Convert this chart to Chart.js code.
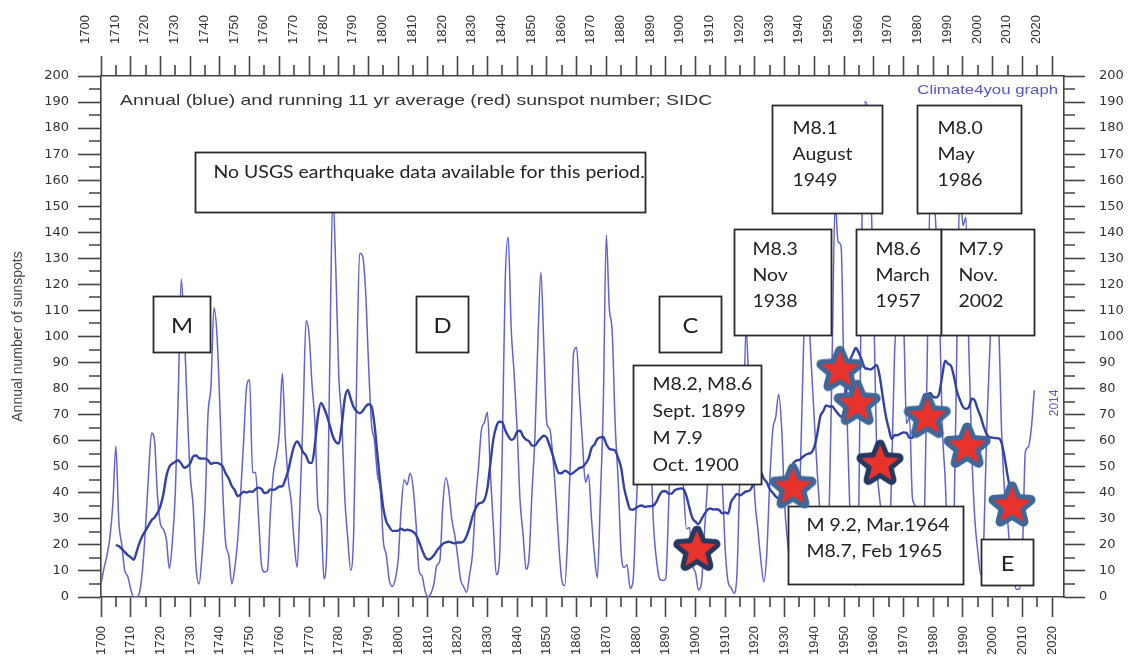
<!DOCTYPE html>
<html><head><meta charset="utf-8">
<script src="https://cdn.jsdelivr.net/npm/chart.js@4"></script>
<style>html,body{margin:0;padding:0;background:#fff;overflow:hidden}canvas{display:block}</style>
</head><body>
<canvas id="c" width="1128" height="657"></canvas>
<script>
// ---------- DATA ----------
const firstYear = 1700;
const sunspots1700s = [5,11,16,23,36,58,29,20,10,8, 3,0,0,2,11,27,47,63,60,39, 28,26,22,11,21,40,78,122,103,73,
  47,35,11,5,16,34,70,81,111,101, 73,40,20,16,5,11,22,40,60,80.9, 83.4,47.7,47.8,30.7,12.2,9.6,10.2,32.4,47.6,54.0,
  62.9,85.9,61.2,45.1,36.4,20.9,11.4,37.8,69.8,106.1, 100.8,81.6,66.5,34.8,30.6,7.0,19.8,92.5,154.4,125.9,
  84.8,68.1,38.5,22.8,10.2,24.1,82.9,132.0,130.9,118.1, 89.9,66.6,60.0,46.9,41.0,21.3,16.0,6.4,4.1,6.8];
const sunspots1800s = [14.5,34.0,45.0,43.1,47.5,42.2,28.1,10.1,8.1,2.5, 0.0,1.4,5.0,12.2,13.9,35.4,45.8,41.1,30.1,23.9,
  15.6,6.6,4.0,1.8,8.5,16.6,36.3,49.6,64.2,67.0, 70.9,47.8,27.5,8.5,13.2,56.9,121.5,138.3,103.2,85.7,
  64.6,36.7,24.2,10.7,15.0,40.1,61.5,98.5,124.7,96.3, 66.6,64.5,54.1,39.0,20.6,6.7,4.3,22.7,54.8,93.8,
  95.8,77.2,59.1,44.0,47.0,30.5,16.3,7.3,37.6,74.0, 139.0,111.2,101.6,66.2,44.7,17.0,11.3,12.4,3.4,6.0,
  32.3,54.3,59.7,63.7,63.5,52.2,25.4,13.1,6.8,6.3, 7.1,35.6,73.0,85.1,78.0,64.0,41.8,26.2,26.7,12.1];
const sunspots1900s = [9.5,2.7,5.0,24.4,42.0,63.5,53.8,62.0,48.5,43.9, 18.6,5.7,3.6,1.4,9.6,47.4,57.1,103.9,80.6,63.6,
  37.6,26.1,14.2,5.8,16.7,44.3,63.9,69.0,77.8,64.9, 35.7,21.2,11.1,5.7,8.7,36.1,79.7,114.4,109.6,88.8,
  67.8,47.5,30.6,16.3,9.6,33.2,92.6,151.6,136.3,134.7, 83.9,69.4,31.5,13.9,4.4,38.0,141.7,190.2,184.8,159.0,
  112.3,53.9,37.6,27.9,10.2,15.1,47.0,93.8,105.9,105.5, 104.5,66.6,68.9,38.0,34.5,15.5,12.6,27.5,92.5,155.4,
  154.6,140.4,115.9,66.6,45.9,17.9,13.4,29.4,100.2,157.6, 142.6,145.7,94.3,54.6,29.9,17.5,8.6,21.5,64.3,93.3];
const sunspots2000s = [119.6,111.0,104.0,63.7,40.4,29.8,15.2,7.5,2.9,3.1, 16.5,55.7,57.6,64.7,79.3];

// running 11 yr average, first value = 1705
const avgFirstYear = 1705;
const avg1700s = [19.9,19.5,18.5,17.2,16.1, 15.3,14.3,17.4,21.0,23.6,25.5,27.5,29.5,30.5,32.3,
  34.9,39.5,46.4,50.0,51.2,51.9,52.5,51.2,49.6,50.1, 51.3,54.0,54.3,53.3,53.1,53.1,52.5,51.1,51.5,51.5,
  51.1,50.0,47.3,45.4,42.6,41.0,38.7,39.4,40.4,40.1, 40.5,40.4,41.4,42.0,41.5,39.9,40.1,41.3,41.1,41.6,
  42.4,42.5,45.1,48.5,53.8,58.0,59.7,58.0,55.6,54.2, 51.6,51.5,58.8,69.4,74.5,72.6,69.6,65.7,61.7,59.5,
  58.9,65.8,76.0,79.5,76.2,72.9,71.3,70.5,71.3,73.0, 74.0,73.2,66.3,54.7,43.4,34.0,28.9,26.9,25.4,25.4];
const avg1800s = [25.5,26.2,25.6,25.8,25.6,25.0,23.8,21.2,18.2,15.5, 14.4,14.8,16.0,17.8,19.2,20.4,21.0,21.2,20.9,20.6,
  20.9,20.9,21.3,23.4,26.7,31.0,33.9,35.8,36.2,37.3, 41.7,51.2,60.5,65.4,67.3,67.1,64.0,61.8,60.3,60.9,
  63.4,63.8,61.7,60.4,59.8,58.1,58.1,59.7,61.0,61.9, 61.1,57.9,54.4,50.4,47.6,47.5,48.5,48.0,47.1,47.8,
  48.7,49.6,49.9,51.2,53.0,57.1,58.5,60.7,61.3,61.4, 58.7,56.9,56.6,56.2,53.3,49.6,41.9,37.2,33.7,33.5,
  34.2,34.9,35.1,34.6,34.8,34.9,35.2,36.9,39.3,40.6, 40.6,39.7,39.7,41.0,41.4,41.7,41.3,38.6,34.1,30.2];
const avg1900s = [28.9,28.0,29.8,31.8,33.4,34.0,33.6,33.7,33.4,32.1, 32.5,32.0,36.5,38.2,39.6,39.0,39.7,40.5,40.7,42.1,
  45.2,46.7,47.8,45.4,44.0,41.5,40.0,38.6,37.8,38.1, 39.9,43.1,47.7,51.4,52.4,52.6,53.7,54.5,55.0,55.4,
  57.6,62.7,69.3,71.3,73.5,73.1,73.2,71.8,70.3,69.2, 71.8,81.6,90.5,93.5,95.6,93.6,90.8,87.9,87.6,87.3,
  88.2,89.1,84.7,77.0,69.8,64.9,60.7,62.1,62.1,62.7, 63.2,63.0,61.2,61.1,65.6,70.1,73.3,77.8,77.6,78.3,
  76.8,76.6,78.1,84.7,90.7,89.5,88.7,84.5,78.9,75.6, 73.0,72.2,72.9,76.1,75.4,72.0,69.1,65.3,62.5,61.3];
const avg2000s = [61.2,61.0,60.9,59.2,53.7,46.7,40.9,36.0,32.5,33.9];

// earthquake stars
const starYears  = [1900.5, 1932.8, 1948.6, 1954.4, 1962.1, 1978.0, 1991.4, 2006.5];
const starValues = [18, 42, 87, 74, 51, 69, 57.6, 35];
const starDark   = [true, false, false, false, true, false, false, false];

// ticks
const xTickYears = [1700,1710,1720,1730,1740,1750,1760,1770,1780,1790,1800,1810,1820,1830,1840,1850,1860,1870,1880,1890,1900,1910,1920,1930,1940,1950,1960,1970,1980,1990,2000,2010,2020];
const xMinorYears = [1705,1715,1725,1735,1745,1755,1765,1775,1785,1795,1805,1815,1825,1835,1845,1855,1865,1875,1885,1895,1905,1915,1925,1935,1945,1955,1965,1975,1985,1995,2005,2015];
const yTickValues = [0,10,20,30,40,50,60,70,80,90,100,110,120,130,140,150,160,170,180,190,200];
const yMinorValues = [5,15,25,35,45,55,65,75,85,95,105,115,125,135,145,155,165,175,185,195];

// ---------- ANNOTATIONS (data coordinates) ----------
const notes = [
 {x0:1731.6, x1:1883.0, yTop:170.8, yBot:147.8, lines:['No USGS earthquake data available for this period.'], padX:18, firstLine:20, lineGap:26},
 {x0:1717.5, x1:1736.7, yTop:115.5, yBot:94.0, lines:['M'], center:true, size:22},
 {x0:1806.0, x1:1823.5, yTop:115.5, yBot:94.0, lines:['D'], center:true, size:22},
 {x0:1887.8, x1:1908.6, yTop:115.5, yBot:94.0, lines:['C'], center:true, size:22},
 {x0:1879.0, x1:1922.1, yTop:89.1, yBot:43.4, lines:['M8.2, M8.6','Sept. 1899','M 7.9','Oct. 1900'], padX:19, firstLine:19, lineGap:27},
 {x0:1913.0, x1:1945.6, yTop:141.3, yBot:100.6, lines:['M8.3','Nov','1938'], padX:18, firstLine:20, lineGap:26},
 {x0:1925.8, x1:1962.8, yTop:188.9, yBot:147.4, lines:['M8.1','August','1949'], padX:20, firstLine:23, lineGap:26},
 {x0:1954.0, x1:1982.6, yTop:141.3, yBot:100.6, lines:['M8.6','March','1957'], padX:19, firstLine:20, lineGap:26},
 {x0:1982.6, x1:2013.9, yTop:141.3, yBot:100.6, lines:['M7.9','Nov.','2002'], padX:17, firstLine:20, lineGap:26},
 {x0:1974.6, x1:2009.6, yTop:188.9, yBot:147.4, lines:['M8.0','May','1986'], padX:20, firstLine:23, lineGap:26},
 {x0:1931.2, x1:1990.0, yTop:34.9, yBot:5.0, lines:['M 9.2, Mar.1964','M8.7, Feb 1965'], padX:18, firstLine:19, lineGap:26},
 {x0:1996.1, x1:2013.6, yTop:22.3, yBot:4.6, lines:['E'], center:true, size:22}
];
const texts = [
 {x:1706.4, y:190.4, text:'Annual (blue) and running 11 yr average (red) sunspot number; SIDC', font:'15px "Liberation Sans"', color:'#333', align:'left', stretch:1.29},
 {x:2022.0, y:194.6, text:'Climate4you graph', font:'13px "Liberation Sans"', color:'#5656c8', align:'right', stretch:1.29},
 {x:2021.0, y:74.5, text:'2014', font:'12px "Liberation Sans"', color:'#5a5ac8', align:'center', stretch:1, rotate:true}
];

// ---------- BUILD ----------
const annualValues = sunspots1700s.concat(sunspots1800s, sunspots1900s, sunspots2000s);
const avgValues = avg1700s.concat(avg1800s, avg1900s, avg2000s);
const annualPoints = annualValues.map((v, i) => ({x: firstYear + i, y: v}));
const avgPoints = avgValues.map((v, i) => ({x: avgFirstYear + i, y: v}));
const starPoints = starYears.map((yr, i) => ({x: yr, y: starValues[i]}));

function makeStar(border) {
  const c = document.createElement('canvas'); c.width = 62; c.height = 62;
  const g = c.getContext('2d');
  const R = 19.5, r = 8.6, cx = 31, cy = 31;
  g.beginPath();
  for (let i = 0; i < 10; i++) {
    const rad = i % 2 === 0 ? R : r;
    const a = -Math.PI / 2 + i * Math.PI / 5;
    const px = cx + rad * Math.cos(a), py = cy + rad * Math.sin(a);
    if (i) g.lineTo(px, py); else g.moveTo(px, py);
  }
  g.closePath();
  g.lineJoin = 'round'; g.lineWidth = 10; g.strokeStyle = border; g.stroke();
  g.fillStyle = '#e8322c'; g.fill();
  return c;
}
const starLight = makeStar('#3f6797');
const starDarkImg = makeStar('#253960');
const starStyles = starDark.map(d => d ? starDarkImg : starLight);

const tickColor = '#333';
function axisX(pos, h) {
  return {
    type: 'linear', position: pos, min: 1700, max: 2024,
    afterFit: s => { s.height = h; },
    afterBuildTicks: s => { s.ticks = xTickYears.map(v => ({value: v})); },
    ticks: {minRotation: 90, maxRotation: 90, autoSkip: false, padding: pos === 'top' ? 12 : 9,
      font: {family: 'Liberation Sans', size: 13}, color: tickColor, callback: v => String(v)},
    grid: {display: true, drawOnChartArea: false, tickLength: 20, tickWidth: 1.6, tickColor: '#444'},
    border: {display: true, color: '#444', width: 1.6}
  };
}
function axisY(pos, w) {
  const o = {
    type: 'linear', position: pos, min: 0, max: 200,
    afterFit: s => { s.width = w; },
    afterBuildTicks: s => { s.ticks = yTickValues.map(v => ({value: v})); },
    ticks: {autoSkip: false, padding: pos === 'left' ? 9 : 14,
      font: {family: 'DejaVu Sans', size: 13}, color: tickColor, callback: v => String(v)},
    grid: {display: true, drawOnChartArea: false, tickLength: pos === 'left' ? 23 : 21, tickWidth: 1.6, tickColor: '#444'},
    border: {display: true, color: '#444', width: 1.6}
  };
  if (pos === 'left') {
    o.title = {display: true, text: 'Annual number of sunspots', font: {family: 'Liberation Sans', size: 14}, color: '#444', padding: {top: 10, bottom: 0}};
  }
  return o;
}

function drawStretched(ctx, text, x, y, stretch, align) {
  ctx.save(); ctx.translate(x, y); ctx.scale(stretch, 1);
  ctx.textAlign = align; ctx.textBaseline = 'middle';
  ctx.fillText(text, 0, 0); ctx.restore();
}

const annotationPlugin = {
  id: 'notes',
  afterDatasetDraw(chart, args) {
    if (args.index !== 1) return;
    const ctx = chart.ctx, sx = chart.scales.x, sy = chart.scales.y;
    ctx.save();
    texts.forEach(t => {
      const px = sx.getPixelForValue(t.x), py = sy.getPixelForValue(t.y);
      ctx.font = t.font; ctx.fillStyle = t.color;
      if (t.rotate) {
        ctx.save(); ctx.translate(px, py); ctx.rotate(-Math.PI / 2);
        ctx.textAlign = 'center'; ctx.textBaseline = 'middle'; ctx.fillText(t.text, 0, 0); ctx.restore();
      } else drawStretched(ctx, t.text, px, py, t.stretch, t.align);
    });
    notes.forEach(n => {
      const l = Math.round(sx.getPixelForValue(n.x0)) + 0.5, r = Math.round(sx.getPixelForValue(n.x1)) + 0.5;
      const t = Math.round(sy.getPixelForValue(n.yTop)) + 0.5, b = Math.round(sy.getPixelForValue(n.yBot)) + 0.5;
      ctx.fillStyle = '#fff'; ctx.fillRect(l, t, r - l, b - t);
      ctx.strokeStyle = '#2a2a2a'; ctx.lineWidth = 1.8; ctx.strokeRect(l, t, r - l, b - t);
      ctx.fillStyle = '#222';
      ctx.font = (n.size || 18) + 'px Lato';
      if (n.center) {
        drawStretched(ctx, n.lines[0], (l + r) / 2, (t + b) / 2 + 1, 1.08, 'center');
      } else {
        n.lines.forEach((line, i) => drawStretched(ctx, line, l + n.padX, t + n.firstLine + i * n.lineGap, 1.08, 'left'));
      }
    });
    ctx.restore();
  },
  afterDraw(chart) {
    const ctx = chart.ctx, a = chart.chartArea;
    const sx = chart.scales.x, sy = chart.scales.y;
    ctx.save(); ctx.strokeStyle = '#444'; ctx.lineWidth = 1.6; ctx.beginPath();
    xMinorYears.forEach(v => {
      const px = Math.round(sx.getPixelForValue(v));
      ctx.moveTo(px, a.bottom); ctx.lineTo(px, a.bottom + 10);
      ctx.moveTo(px, a.top); ctx.lineTo(px, a.top - 11);
    });
    yMinorValues.forEach(v => {
      const py = Math.round(sy.getPixelForValue(v));
      ctx.moveTo(a.left, py); ctx.lineTo(a.left - 12, py);
      ctx.moveTo(a.right, py); ctx.lineTo(a.right + 11, py);
    });
    ctx.stroke(); ctx.restore();
  }
};

new Chart(document.getElementById('c'), {
  type: 'line',
  data: {
    datasets: [
      {label: 'Annual', data: annualPoints, borderColor: 'rgb(98,98,208)', borderWidth: 1.5, pointRadius: 0,
       cubicInterpolationMode: 'monotone', order: 3, xAxisID: 'x', yAxisID: 'y'},
      {label: 'Running 11 yr average', data: avgPoints, borderColor: '#3341a4', borderWidth: 2.4, pointRadius: 0,
       cubicInterpolationMode: 'monotone', order: 2, xAxisID: 'x', yAxisID: 'y'},
      {label: 'Earthquakes', data: starPoints, showLine: false, pointStyle: starStyles, pointRadius: 22,
       order: 1, xAxisID: 'x', yAxisID: 'y', clip: false}
    ]
  },
  options: {
    responsive: false, animation: false, devicePixelRatio: 1, events: [],
    layout: {padding: 0},
    plugins: {legend: {display: false}, tooltip: {enabled: false}, title: {display: false}},
    scales: {
      x: axisX('bottom', 60),
      x2: axisX('top', 76),
      y: axisY('left', 101),
      y2: axisY('right', 64)
    }
  },
  plugins: [annotationPlugin]
});
</script>
</body></html>
